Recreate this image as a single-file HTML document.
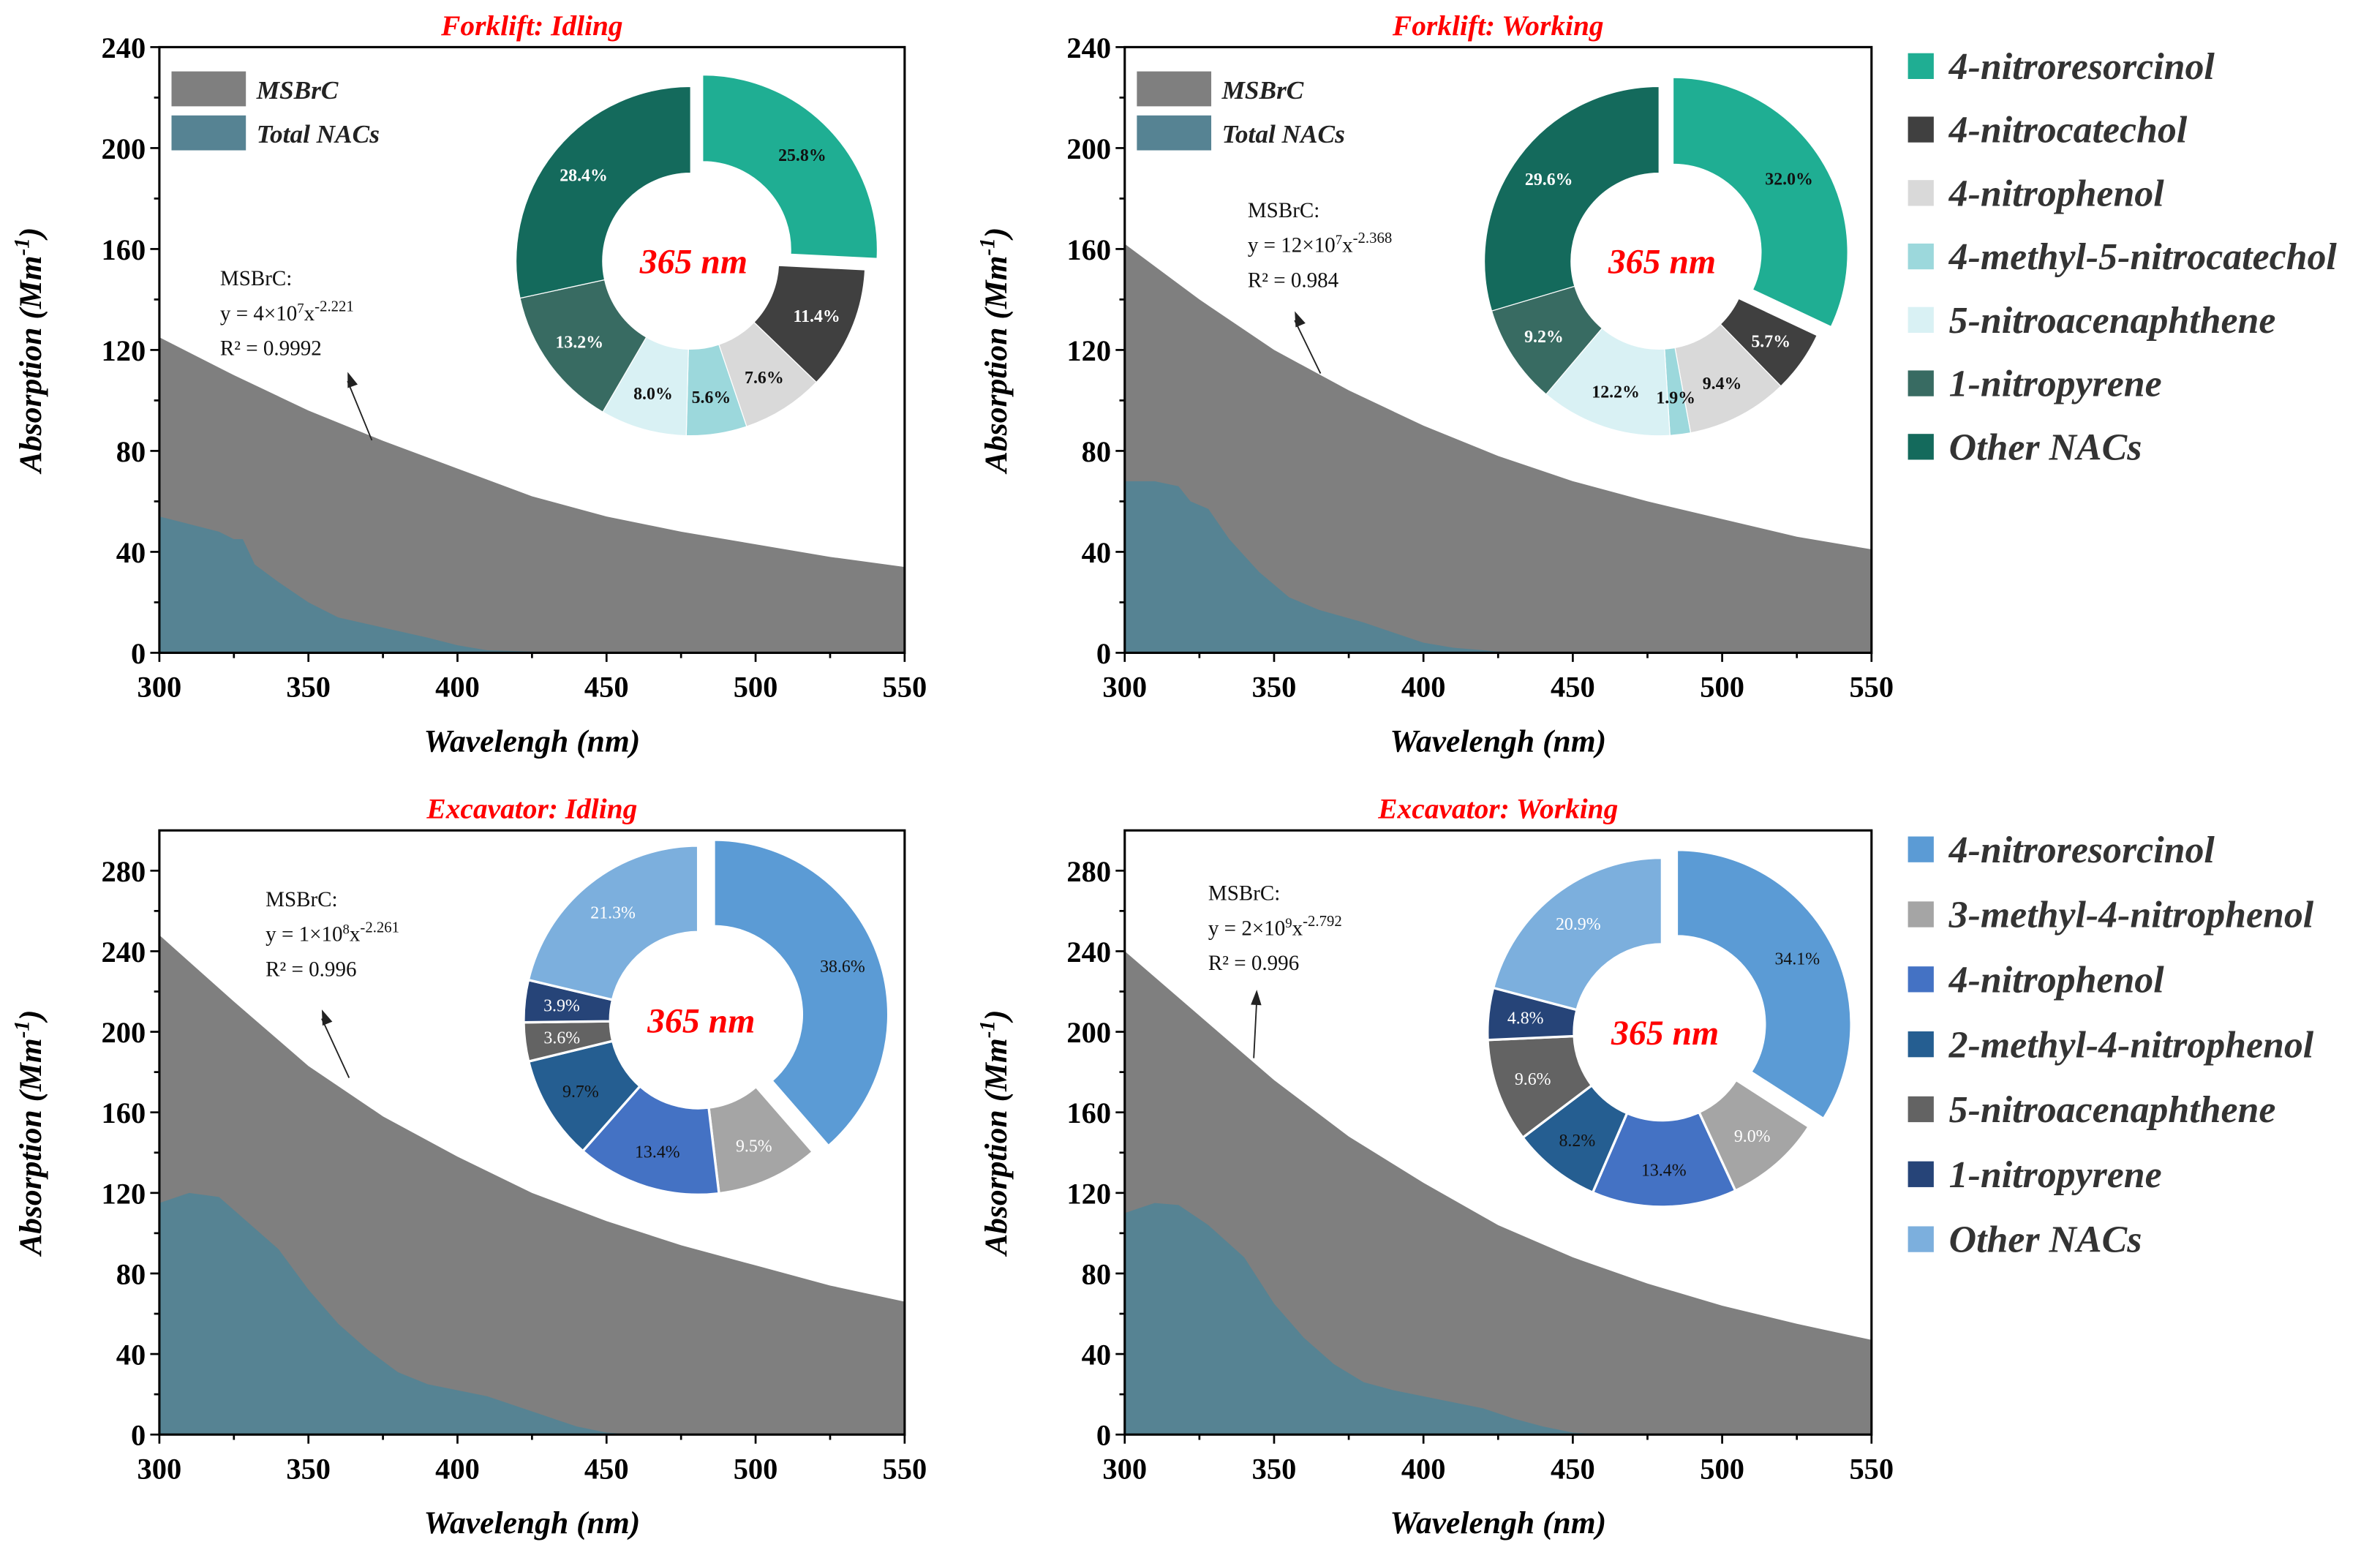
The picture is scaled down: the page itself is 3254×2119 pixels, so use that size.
<!DOCTYPE html>
<html><head><meta charset="utf-8"><style>
html,body{margin:0;padding:0;background:#fff}
svg{display:block}
text{font-family:"Liberation Serif",serif}
</style></head><body>
<svg id="fig" width="3254" height="2119" viewBox="0 0 1568 1021" xmlns="http://www.w3.org/2000/svg"></svg>
<script>
const NS="http://www.w3.org/2000/svg";
// ---- data ----
const panelTitles=["Forklift: Idling","Forklift: Working","Excavator: Idling","Excavator: Working"];
const yMaxes=[240,240,300,300];
const yTickStep=[40,40,40,40];
const xTicks=[300,350,400,450,500,550];
const msbrcWl=[300,325,350,375,400,425,450,475,500,525,550];
const msbrcA=[125,110,96,84,73,62,54,48,43,38,34];
const msbrcB=[162,140,120,104,90,78,68,60,53,46,41];
const msbrcC=[248,215,183,158,138,120,106,94,84,74,66];
const msbrcD=[240,208,176,148,125,104,88,75,64,55,47];
const nacWlA=[300,310,320,325,328,332,340,350,360,375,390,400,410,425,450,550];
const nacA=[54,51,48,45,45,35,28,20,14,10,6,3,1,0.5,0,0];
const nacWlB=[300,310,318,322,328,335,345,355,365,380,390,400,410,425,450,550];
const nacB=[68,68,66,60,57,45,32,22,17,12,8,4,2,0.5,0,0];
const nacWlC=[300,310,320,330,340,350,360,370,380,390,400,410,420,430,440,450,460,550];
const nacC=[115,120,118,105,92,72,55,42,31,25,22,19,14,9,4,1,0,0];
const nacWlD=[300,310,318,328,340,350,360,370,380,390,400,410,420,430,440,450,460,550];
const nacD=[110,115,114,104,88,65,48,35,26,22,19,16,13,8,4,1,0,0];
const pieA=[25.8,11.4,7.6,5.6,8.0,13.2,28.4];
const pieB=[32.0,5.7,9.4,1.9,12.2,9.2,29.6];
const pieC=[38.6,9.5,13.4,9.7,3.6,3.9,21.3];
const pieD=[34.1,9.0,13.4,8.2,9.6,4.8,20.9];
const namesTop=["4-nitroresorcinol","4-nitrocatechol","4-nitrophenol","4-methyl-5-nitrocatechol","5-nitroacenaphthene","1-nitropyrene","Other NACs"];
const namesBot=["4-nitroresorcinol","3-methyl-4-nitrophenol","4-nitrophenol","2-methyl-4-nitrophenol","5-nitroacenaphthene","1-nitropyrene","Other NACs"];
const colTop=["#1fae93","#404040","#d9d9d9","#9cd8dc","#d9f1f4","#386b62","#146a5c"];
const colBot=["#5b9bd5","#a5a5a5","#4472c4","#255e91","#636363","#264478","#7cafdd"];
const lblTop=["#111","#fff","#111","#111","#111","#fff","#fff"];
const lblBot=["#111","#fff","#111","#111","#fff","#fff","#fff"];
const eqs=[["4×10","7","-2.221","0.9992"],["12×10","7","-2.368","0.984"],["1×10","8","-2.261","0.996"],["2×10","9","-2.792","0.996"]];

const svg=document.getElementById('fig');
function el(tag,attrs,parent){const e=document.createElementNS(NS,tag);for(const k in attrs)e.setAttribute(k,attrs[k]);(parent||svg).appendChild(e);return e;}

const panels=[
 {x0:105,x1:596,y0:31,y1:430,ms:msbrcA,nw:nacWlA,nv:nacA,pie:pieA,cx:455,cy:172,top:true,txt:[145,188],arr:[245,290,229,245]},
 {x0:741,x1:1233,y0:31,y1:430,ms:msbrcB,nw:nacWlB,nv:nacB,pie:pieB,cx:1093,cy:172,top:true,txt:[822,143],arr:[870,246,853,205]},
 {x0:105,x1:596,y0:547,y1:945,ms:msbrcC,nw:nacWlC,nv:nacC,pie:pieC,cx:460,cy:672,top:false,txt:[175,597],arr:[230,710,212,665]},
 {x0:741,x1:1233,y0:547,y1:945,ms:msbrcD,nw:nacWlD,nv:nacD,pie:pieD,cx:1095,cy:680,top:false,txt:[796,593],arr:[826,697,828,652]}
];
panels.forEach((p,i)=>{
  const g=el('g',{});
  
  
  const ymax=yMaxes[i];
  const X=w=>p.x0+(w-300)/250*(p.x1-p.x0);
  const Y=v=>p.y1-v/ymax*(p.y1-p.y0);
  let d='M'+X(300)+','+Y(0);
  msbrcWl.forEach((w,k)=>{d+=' L'+X(w)+','+Y(p.ms[k]);});
  d+=' L'+X(550)+','+Y(0)+'Z';
  const a1=el('path',{d:d,fill:'#7f7f7f'},g);
  
  
  let d2='M'+X(300)+','+Y(0);
  p.nw.forEach((w,k)=>{d2+=' L'+X(w)+','+Y(p.nv[k]);});
  d2+=' L'+X(550)+','+Y(0)+'Z';
  const a2=el('path',{d:d2,fill:'#568393'},g);
  
  
  const fr=el('rect',{x:p.x0,y:p.y0,width:p.x1-p.x0,height:p.y1-p.y0,fill:'none',stroke:'#000','stroke-width':1.5},g);
  
  
  for(let v=0;v<=ymax;v+=yTickStep[i]/2){
    const major=(v%yTickStep[i]===0);
    if(!major && v+0.01>ymax) continue;
    el('line',{x1:p.x0,x2:p.x0-(major?6:3.5),y1:Y(v),y2:Y(v),stroke:'#000','stroke-width':1.3},g);
    if(major && v<ymax+1){
      if(i>=2 && v>280) continue;
      const t=el('text',{x:p.x0-9,y:Y(v)+7,'text-anchor':'end','font-size':19.5,'font-weight':'bold',fill:'#000'},g);
      t.textContent=v;
      
      
    }
  }
  for(let w=300;w<=550;w+=25){
    const major=(w%50===0);
    el('line',{x1:X(w),x2:X(w),y1:p.y1,y2:p.y1+(major?6:3.5),stroke:'#000','stroke-width':1.3},g);
  }
  xTicks.forEach(w=>{
    const t=el('text',{x:X(w),y:p.y1+29,'text-anchor':'middle','font-size':19.5,'font-weight':'bold',fill:'#000'},g);
    t.textContent=w;
    
    
  });
  const xt=el('text',{x:(p.x0+p.x1)/2,y:p.y1+65,'text-anchor':'middle','font-size':21,'font-weight':'bold','font-style':'italic',fill:'#000'},g);
  xt.textContent='Wavelengh (nm)';
  
  
  const yc=(p.y0+p.y1)/2;
  const yx=p.x0-78;
  const yt=el('text',{x:yx,y:yc,transform:'rotate(-90 '+yx+' '+yc+')','text-anchor':'middle','font-size':21,'font-weight':'bold','font-style':'italic',fill:'#000'},g);
  yt.innerHTML='Absorption (Mm<tspan dy="-8" font-size="14">-1</tspan><tspan dy="8">)</tspan>';
  
  
  const tt=el('text',{x:(p.x0+p.x1)/2,y:p.y0-8,'text-anchor':'middle','font-size':19,'font-weight':'bold','font-style':'italic',fill:'#ff0000'},g);
  tt.textContent=panelTitles[i];
  
  
  if(p.top){
    [['MSBrC','#7f7f7f'],['Total NACs','#568393']].forEach((e,k)=>{
      const ly=p.y0+16+k*29;
      const r=el('rect',{x:p.x0+8,y:ly,width:49,height:23,fill:e[1]},g);
      
      
      const t=el('text',{x:p.x0+64,y:ly+18,'font-size':17,'font-weight':'bold','font-style':'italic',fill:'#222'},g);
      t.textContent=e[0];
      
      
    });
  }
  const q=eqs[i];
  const tx=p.txt[0],ty=p.txt[1];
  const t1=el('text',{x:tx,y:ty,'font-size':14,fill:'#111'},g);t1.textContent='MSBrC:';
  
  
  const t2=el('text',{x:tx,y:ty+23,'font-size':14,fill:'#111'},g);
  t2.innerHTML='y =  '+q[0]+'<tspan dy="-5" font-size="9">'+q[1]+'</tspan><tspan dy="5">x</tspan><tspan dy="-6" font-size="10">'+q[2]+'</tspan>';
  
  
  const t3=el('text',{x:tx,y:ty+46,'font-size':14,fill:'#111'},g);t3.textContent='R² = '+q[3];
  
  
  const ar=p.arr;
  el('line',{x1:ar[0],y1:ar[1],x2:ar[2],y2:ar[3]+6,stroke:'#222','stroke-width':0.9},g);
  const ang=Math.atan2(ar[3]-ar[1],ar[2]-ar[0]);
  const hx=ar[2],hy=ar[3];
  const pL=[hx-10*Math.cos(ang)+3.5*Math.sin(ang),hy-10*Math.sin(ang)-3.5*Math.cos(ang)];
  const pR=[hx-10*Math.cos(ang)-3.5*Math.sin(ang),hy-10*Math.sin(ang)+3.5*Math.cos(ang)];
  const ah=el('polygon',{points:hx+','+hy+' '+pL.join(',')+' '+pR.join(','),fill:'#222'},g);
  
  
  const R=115,r0=58;
  const cols=p.top?colTop:colBot, lc=p.top?lblTop:lblBot;
  let start=0;
  const labels=[];
  p.pie.forEach((v,k)=>{
    const a0=start/100*2*Math.PI, a1a=(start+v)/100*2*Math.PI; start+=v;
    const mid=(a0+a1a)/2;
    const off=k===0?11:0;
    const ox=p.cx+off*Math.sin(mid), oy=p.cy-off*Math.cos(mid);
    const P=(a,rr)=>[ox+rr*Math.sin(a),oy-rr*Math.cos(a)];
    const big=(a1a-a0)>Math.PI?1:0;
    const o0=P(a0,R),o1=P(a1a,R),i1=P(a1a,r0),i0=P(a0,r0);
    const ds='M'+o0+' A'+R+','+R+' 0 '+big+' 1 '+o1+' L'+i1+' A'+r0+','+r0+' 0 '+big+' 0 '+i0+'Z';
    const s=el('path',{d:ds,fill:cols[k],stroke:'#fff','stroke-width':p.top?0.6:1.6},g);
    
    
    const lp=P(mid,(R+r0)/2+4);
    labels.push([lp,v,k]);
  });
  labels.forEach(([lp,v,k])=>{
    const lt=el('text',{x:lp[0],y:lp[1]+4,'text-anchor':'middle','font-size':11.5,'font-weight':p.top?'bold':'normal',fill:lc[k]},g);
    lt.textContent=v.toFixed(1)+'%';
    
    
  });
  const ct=el('text',{x:p.cx+2,y:p.cy+8,'text-anchor':'middle','font-size':23,'font-weight':'bold','font-style':'italic',fill:'#ff0000'},g);
  ct.textContent='365 nm';
  
  
});
[[namesTop,colTop,44],[namesBot,colBot,560]].forEach((L,j)=>{
  L[0].forEach((n,k)=>{
    const y=L[2]+k*(j===0?41.8:42.8);
    const r=el('rect',{x:1257,y:y-9,width:17,height:17,fill:L[1][k]});
    
    
    const t=el('text',{x:1284,y:y+8,'font-size':25,'font-weight':'bold','font-style':'italic',fill:'#333'});
    t.textContent=n;
    
    
  });
});
</script>
</body></html>
